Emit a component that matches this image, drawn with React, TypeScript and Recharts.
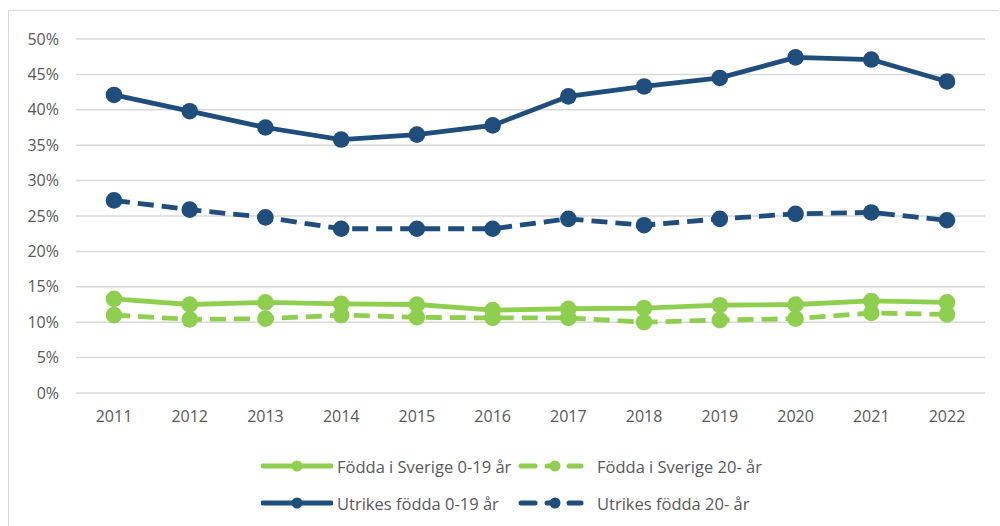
import React from "react";
import { LineChart, Line, XAxis, YAxis, CartesianGrid } from "recharts";

const years = ["2011", "2012", "2013", "2014", "2015", "2016", "2017", "2018", "2019", "2020", "2021", "2022"];
const sverige019 = [13.3, 12.5, 12.8, 12.6, 12.5, 11.7, 11.9, 12.0, 12.4, 12.5, 13.0, 12.8];
const sverige20 = [11.0, 10.4, 10.5, 11.0, 10.7, 10.6, 10.6, 10.0, 10.3, 10.5, 11.3, 11.1];
const utrikes019 = [42.1, 39.8, 37.5, 35.8, 36.5, 37.8, 41.9, 43.3, 44.5, 47.4, 47.1, 44.0];
const utrikes20 = [27.2, 25.9, 24.8, 23.2, 23.2, 23.2, 24.6, 23.7, 24.6, 25.3, 25.5, 24.4];
const yTicks = [0, 5, 10, 15, 20, 25, 30, 35, 40, 45, 50];

const GREEN = "#8FCF4F";
const NAVY = "#1F4E7D";
const TEXT = "#595959";
const FONT = "'Open Sans', sans-serif";

const data = years.map((y, i) => ({
  year: y,
  s019: sverige019[i],
  s20: sverige20[i],
  u019: utrikes019[i],
  u20: utrikes20[i],
}));

const legendItems = [
  { label: "Födda i Sverige 0-19 år", color: GREEN, dashed: false, col: 0, row: 0 },
  { label: "Födda i Sverige 20- år", color: GREEN, dashed: true, col: 1, row: 0 },
  { label: "Utrikes födda 0-19 år", color: NAVY, dashed: false, col: 0, row: 1 },
  { label: "Utrikes födda 20- år", color: NAVY, dashed: true, col: 1, row: 1 },
];

function LegendSymbol({ color, dashed }: { color: string; dashed: boolean }) {
  if (dashed) {
    return (
      <svg width={66} height={14} style={{ display: "block" }}>
        <line x1={3} y1={7} x2={17} y2={7} stroke={color} strokeWidth={5} strokeLinecap="round" />
        <line x1={29} y1={7} x2={38} y2={7} stroke={color} strokeWidth={5} strokeLinecap="round" />
        <line x1={51} y1={7} x2={63} y2={7} stroke={color} strokeWidth={5} strokeLinecap="round" />
        <circle cx={37} cy={7} r={5.5} fill={color} />
      </svg>
    );
  }
  return (
    <svg width={72} height={14} style={{ display: "block" }}>
      <line x1={2} y1={7} x2={70} y2={7} stroke={color} strokeWidth={5} strokeLinecap="round" />
      <circle cx={36} cy={7} r={5.5} fill={color} />
    </svg>
  );
}

export default function App() {
  return (
    <div style={{ position: "absolute", left: 0, top: 0, width: 1000, height: 526, background: "#fff", overflow: "hidden" }}>
      <div
        style={{
          position: "absolute",
          left: 8,
          top: 10,
          width: 990,
          height: 530,
          borderTop: "1.5px solid #d9d9d9",
          borderLeft: "1.5px solid #d9d9d9",
        }}
      />
      <div style={{ position: "absolute", left: 0, top: 0 }}>
        <LineChart width={1000} height={526} data={data} margin={{ top: 39, right: 15, bottom: 103, left: 0 }}>
          <CartesianGrid vertical={false} stroke="#d9d9d9" strokeWidth={1.5} />
          <XAxis
            dataKey="year"
            axisLine={false}
            tickLine={false}
            height={30}
            tickMargin={12}
            padding={{ left: 38, right: 38 }}
            tick={{ fill: TEXT, fontSize: 16, fontFamily: FONT }}
          />
          <YAxis
            width={76}
            domain={[0, 50]}
            ticks={yTicks}
            interval={0}
            axisLine={false}
            tickLine={false}
            tickMargin={11}
            tickFormatter={(v: number) => `${v}%`}
            tick={{ fill: TEXT, fontSize: 16, fontFamily: FONT }}
          />
          <Line
            dataKey="s019"
            stroke={GREEN}
            strokeWidth={4.8}
            dot={{ r: 8.3, fill: GREEN, stroke: "none" }}
            isAnimationActive={false}
          />
          <Line
            dataKey="s20"
            stroke={GREEN}
            strokeWidth={4.8}
            strokeDasharray="16 8"
            dot={{ r: 8.3, fill: GREEN, stroke: "none" }}
            isAnimationActive={false}
          />
          <Line
            dataKey="u019"
            stroke={NAVY}
            strokeWidth={4.8}
            dot={{ r: 8.3, fill: NAVY, stroke: "none" }}
            isAnimationActive={false}
          />
          <Line
            dataKey="u20"
            stroke={NAVY}
            strokeWidth={4.8}
            strokeDasharray="16 8"
            dot={{ r: 8.3, fill: NAVY, stroke: "none" }}
            isAnimationActive={false}
          />
        </LineChart>
      </div>
      {legendItems.map((it) => (
        <div
          key={it.label}
          style={{
            position: "absolute",
            left: it.col === 0 ? 261 : 518,
            top: (it.row === 0 ? 466 : 503) - 12,
            height: 24,
            display: "flex",
            alignItems: "center",
            fontFamily: FONT,
            fontSize: 16.5,
            color: TEXT,
            whiteSpace: "nowrap",
          }}
        >
          <LegendSymbol color={it.color} dashed={it.dashed} />
          <span style={{ marginLeft: it.col === 0 ? 4 : 13 }}>{it.label}</span>
        </div>
      ))}
    </div>
  );
}
